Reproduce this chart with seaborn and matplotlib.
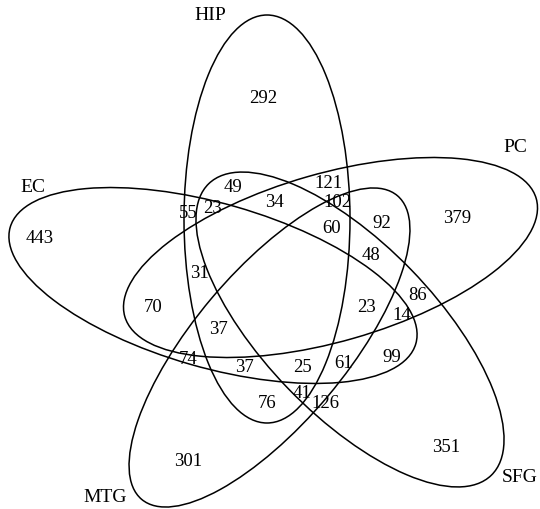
import matplotlib
matplotlib.use("Agg")
import matplotlib.pyplot as plt
from matplotlib.patches import Ellipse
import seaborn as sns

# set names and where their labels sit (pixel coords, y from top)
set_names = ["HIP", "EC", "MTG", "SFG", "PC"]
name_x = [210, 33, 105, 520, 515]
name_y = [15, 187, 497, 477, 147]

# ellipse geometry per set: centre, semi-axes, tilt (deg)
ell_cx = [267, 213, 269.5, 350, 330.5]
ell_cy = [219, 285.5, 347.5, 329.5, 257.5]
ell_a = [204, 211, 198.5, 203, 214]
ell_b = [83, 82, 76, 85.5, 84]
ell_ang = [90, -16, 49.9, -45.9, 16]

# region counts and where they are printed
counts = [292, 443, 301, 351, 379,
          49, 121, 34, 102, 55, 23, 92, 60, 48, 31, 86, 70, 23, 14,
          37, 74, 99, 37, 25, 61, 41, 76, 126]
count_x = [263, 40, 188, 446, 457,
           233, 328, 274, 337, 188, 213, 382, 332, 371, 199, 418, 153, 366, 402,
           218, 188, 392, 244, 302, 344, 302, 267, 325]
count_y = [98, 238, 462, 448, 218,
           187, 183, 202, 202, 213, 208, 223, 228, 256, 274, 296, 307, 307, 315,
           330, 359, 357, 368, 368, 364, 393, 403, 403]

W, H = 540, 509
sns.set_theme(style="white")
plt.rcParams["font.family"] = ["Liberation Serif", "DejaVu Serif"]

fig = plt.figure(figsize=(W / 100, H / 100), dpi=100)
ax = fig.add_axes([0, 0, 1, 1])
ax.set_xlim(0, W)
ax.set_ylim(0, H)
ax.axis("off")

for cx, cy, a, b, ang in zip(ell_cx, ell_cy, ell_a, ell_b, ell_ang):
    ax.add_patch(Ellipse((cx, H - cy), 2 * a, 2 * b, angle=ang,
                         fill=False, edgecolor="black", linewidth=1.1))

for name, x, y in zip(set_names, name_x, name_y):
    ax.text(x, H - y, name, ha="center", va="center", fontsize=14, color="black")

for c, x, y in zip(counts, count_x, count_y):
    ax.text(x, H - y, str(c), ha="center", va="center", fontsize=13.5, color="black")

fig.savefig("out.png", dpi=100, facecolor="white")
